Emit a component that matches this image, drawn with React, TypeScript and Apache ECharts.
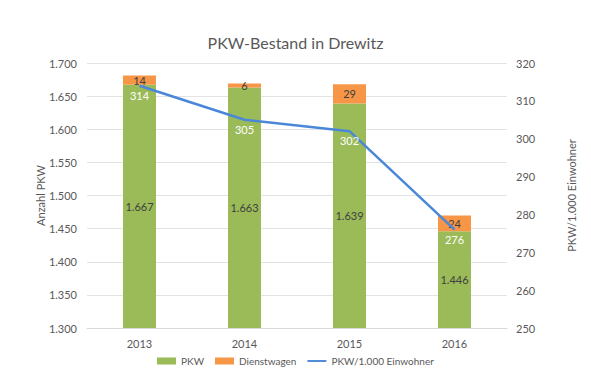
import React, { useEffect, useRef } from "react";
import * as echarts from "echarts";

const years = ["2013", "2014", "2015", "2016"];
const pkw = [1667, 1663, 1639, 1446];
const dienstwagen = [14, 6, 29, 24];
const pkwPer1000 = [314, 305, 302, 276];

const fmt = (v: number) => {
  const s = String(Math.round(v));
  return s.replace(/\B(?=(\d{3})+(?!\d))/g, ".");
};

const FONT = "Lato, 'Open Sans', sans-serif";
const GRAY = "#595959";

export default function App() {
  const ref = useRef<HTMLDivElement>(null);
  useEffect(() => {
    document.body.style.margin = "0";
    if (!ref.current) return;
    const chart = echarts.init(ref.current, undefined, { renderer: "svg" });
    chart.setOption({
      animation: false,
      backgroundColor: "#fff",
      textStyle: { fontFamily: FONT },
      title: {
        text: "PKW-Bestand in Drewitz",
        left: "center",
        top: 29,
        textStyle: { fontFamily: FONT, fontSize: 16, fontWeight: "normal", color: GRAY },
      },
      legend: {
        bottom: 15,
        left: 152,
        itemWidth: 19,
        itemHeight: 7,
        itemGap: 11,
        textStyle: { fontFamily: FONT, fontSize: 10, color: GRAY },
        data: [
          { name: "PKW", icon: "rect" },
          { name: "Dienstwagen", icon: "rect" },
          { name: "PKW/1.000 Einwohner", icon: "path://M0 0 H20 V2 H0 Z" },
        ],
      },
      grid: { left: 87, right: 84, top: 63, bottom: 58 },
      xAxis: {
        type: "category",
        data: years,
        axisLine: { show: true, lineStyle: { color: "#d9d9d9" } },
        axisTick: { show: false },
        axisLabel: { color: GRAY, fontSize: 11, margin: 10, fontFamily: FONT },
      },
      yAxis: [
        {
          type: "value",
          min: 1300,
          max: 1700,
          interval: 50,
          name: "Anzahl PKW",
          nameLocation: "middle",
          nameGap: 41,
          nameMoveOverlap: false,
          nameTextStyle: { color: GRAY, fontSize: 11, fontFamily: FONT },
          axisLine: { show: false },
          axisTick: { show: false },
          splitLine: { lineStyle: { color: "#e3e3e3" } },
          axisLabel: { color: GRAY, fontSize: 11, margin: 10, formatter: (v: number) => fmt(v), fontFamily: FONT },
        },
        {
          type: "value",
          min: 250,
          max: 320,
          interval: 10,
          name: "PKW/1.000 Einwohner",
          nameLocation: "middle",
          nameGap: 59,
          nameMoveOverlap: false,
          nameTextStyle: { color: GRAY, fontSize: 11, fontFamily: FONT },
          axisLine: { show: false },
          axisTick: { show: false },
          splitLine: { show: false },
          axisLabel: { color: GRAY, fontSize: 11, margin: 9, fontFamily: FONT },
        },
      ],
      series: [
        {
          name: "PKW",
          type: "bar",
          stack: "total",
          data: pkw,
          barWidth: 33,
          itemStyle: { color: "#9BBB59" },
          label: {
            show: true,
            position: "inside",
            color: "#404040",
            fontSize: 11,
            fontFamily: FONT,
            formatter: (p: any) => fmt(p.value),
          },
        },
        {
          name: "Dienstwagen",
          type: "bar",
          stack: "total",
          data: dienstwagen,
          barWidth: 33,
          itemStyle: { color: "#F79646" },
          label: {
            show: true,
            position: "inside",
            color: "#404040",
            fontSize: 11,
            fontFamily: FONT,
          },
        },
        {
          name: "PKW/1.000 Einwohner",
          type: "line",
          yAxisIndex: 1,
          data: pkwPer1000,
          symbol: "circle",
          symbolSize: 0.1,
          showSymbol: true,
          lineStyle: { color: "#4A87D8", width: 2.5 },
          itemStyle: { color: "#4A87D8" },
          label: {
            show: true,
            position: "bottom",
            distance: 4,
            color: "#ffffff",
            fontSize: 11,
            fontFamily: FONT,
          },
          z: 5,
        },
      ],
    });
    return () => chart.dispose();
  }, []);
  return <div ref={ref} style={{ width: 591, height: 386 }} />;
}
